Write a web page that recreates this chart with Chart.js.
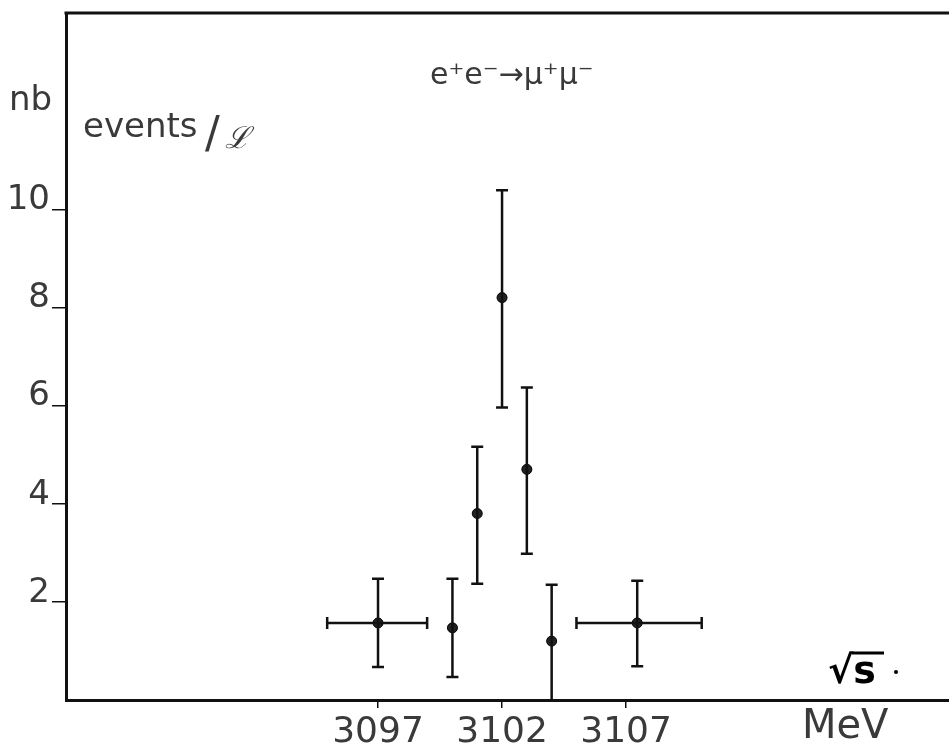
<!DOCTYPE html>
<html>
<head>
<meta charset="utf-8">
<script src="https://cdn.jsdelivr.net/npm/chart.js@4.4.1/dist/chart.umd.min.js"></script>
<style>
  html, body { margin: 0; padding: 0; background: #ffffff; overflow: hidden; }
  #wrap { width: 949px; height: 747px; position: relative; overflow: hidden; }
  canvas { display: block; }
</style>
</head>
<body>
<div id="wrap"><canvas id="c" width="949" height="747"></canvas></div>
<script>
// ---- data ----
const energies   = [3097, 3100, 3101, 3102, 3103, 3104, 3107.45];     // sqrt(s), MeV
const rates      = [1.57, 1.47, 3.80, 8.20, 4.70, 1.20, 1.57];        // nb events / L
const rateLow    = [0.67, 0.47, 2.37, 5.96, 2.98, 0.00, 0.69];
const rateHigh   = [2.47, 2.47, 5.16, 10.39, 6.37, 2.35, 2.43];
const energyLow  = [3094.95, null, null, null, null, null, 3105.0];
const energyHigh = [3098.98, null, null, null, null, null, 3110.05];
const xTickValues = [3097, 3102, 3107];
const yTickValues = [2, 4, 6, 8, 10];
const xRange = [3084.42, 3120.02];
const yRange = [0, 14];

const points = energies.map((e, i) => ({ x: e, y: rates[i] }));

const INK = '#111111';
const TEXT = '#3a3a3a';

const errorBarPlugin = {
  id: 'errorBars',
  afterDatasetsDraw(chart) {
    const xs = chart.scales.x, ys = chart.scales.y, ctx = chart.ctx;
    ctx.save();
    ctx.strokeStyle = INK;
    ctx.lineWidth = 2.5;
    const cap = 6;
    energies.forEach((e, i) => {
      const px = xs.getPixelForValue(e);
      const py = ys.getPixelForValue(rates[i]);
      const yl = ys.getPixelForValue(rateLow[i]);
      const yh = ys.getPixelForValue(rateHigh[i]);
      ctx.beginPath();
      ctx.moveTo(px, yl); ctx.lineTo(px, yh);
      ctx.moveTo(px - cap, yh); ctx.lineTo(px + cap, yh);
      if (rateLow[i] > 0) { ctx.moveTo(px - cap, yl); ctx.lineTo(px + cap, yl); }
      if (energyLow[i] !== null) {
        const xl = xs.getPixelForValue(energyLow[i]);
        const xh = xs.getPixelForValue(energyHigh[i]);
        ctx.moveTo(xl, py); ctx.lineTo(xh, py);
        ctx.moveTo(xl, py - cap); ctx.lineTo(xl, py + cap);
        ctx.moveTo(xh, py - cap); ctx.lineTo(xh, py + cap);
      }
      ctx.stroke();
    });
    ctx.restore();
  }
};

const decorPlugin = {
  id: 'decor',
  afterDraw(chart) {
    const ctx = chart.ctx, a = chart.chartArea;
    ctx.save();
    // top frame line
    ctx.strokeStyle = INK; ctx.lineWidth = 3;
    ctx.beginPath(); ctx.moveTo(a.left - 1.5, a.top); ctx.lineTo(a.right, a.top); ctx.stroke();

    ctx.fillStyle = TEXT;
    ctx.textBaseline = 'alphabetic';
    ctx.textAlign = 'left';
    // nb
    ctx.font = '34px "DejaVu Sans"';
    ctx.fillText('nb', 9, 110);
    // events/L
    ctx.font = '34px "DejaVu Sans"';
    ctx.fillText('events', 83, 137);
    ctx.font = '44px "DejaVu Sans"';
    ctx.fillText('/', 205, 148);
    ctx.font = 'italic 30px "DejaVu Serif"';
    ctx.fillText('\u2112', 225, 148);
    // title
    ctx.font = '30px "DejaVu Sans"';
    ctx.fillText('e\u207Ae\u207B\u2192\u03BC\u207A\u03BC\u207B', 430, 84);
    // sqrt(s)
    ctx.fillStyle = '#000';
    ctx.font = 'bold 38px "DejaVu Sans"';
    ctx.fillText('\u221As', 828, 683);
    ctx.strokeStyle = '#000'; ctx.lineWidth = 3;
    ctx.beginPath(); ctx.moveTo(852, 653); ctx.lineTo(884, 653); ctx.stroke();
    ctx.beginPath(); ctx.arc(896, 672, 2, 0, Math.PI * 2); ctx.fill();
    // MeV
    ctx.fillStyle = TEXT;
    ctx.font = '40px "DejaVu Sans"';
    ctx.fillText('MeV', 802, 738);
    ctx.restore();
  }
};

new Chart(document.getElementById('c'), {
  type: 'scatter',
  data: {
    datasets: [{
      data: points,
      pointRadius: 5,
      pointHoverRadius: 5,
      pointBackgroundColor: '#222',
      pointBorderColor: '#000',
      pointBorderWidth: 1,
      showLine: false
    }]
  },
  options: {
    responsive: false,
    animation: false,
    devicePixelRatio: 1,
    layout: { autoPadding: false, padding: { top: 13, right: 0, bottom: 0, left: 0 } },
    plugins: { legend: { display: false }, tooltip: { enabled: false }, title: { display: false } },
    scales: {
      x: {
        type: 'linear',
        min: xRange[0], max: xRange[1],
        afterBuildTicks(s) { s.ticks = xTickValues.map(v => ({ value: v })); },
        afterFit(s) { s.height = 47; s.paddingLeft = 0; s.paddingRight = 0; },
        grid: { display: true, drawOnChartArea: false, drawTicks: true, tickLength: 8, color: INK, lineWidth: 1.5 },
        border: { display: true, color: INK, width: 3 },
        ticks: {
          color: TEXT, padding: 3, maxRotation: 0, autoSkip: false,
          font: { family: 'DejaVu Sans', size: 36 },
          callback: v => String(v)
        }
      },
      y: {
        type: 'linear',
        min: yRange[0], max: yRange[1],
        afterBuildTicks(s) { s.ticks = yTickValues.map(v => ({ value: v })); },
        afterFit(s) { s.width = 66; s.paddingTop = 0; s.paddingBottom = 0; },
        grid: { display: true, drawOnChartArea: false, drawTicks: true, tickLength: 14, color: INK, lineWidth: 1.5 },
        border: { display: true, color: INK, width: 3 },
        ticks: {
          color: TEXT, padding: 2, labelOffset: -9, autoSkip: false,
          font: { family: 'DejaVu Sans', size: 34 },
          callback: v => String(v)
        }
      }
    }
  },
  plugins: [errorBarPlugin, decorPlugin]
});
</script>
</body>
</html>
